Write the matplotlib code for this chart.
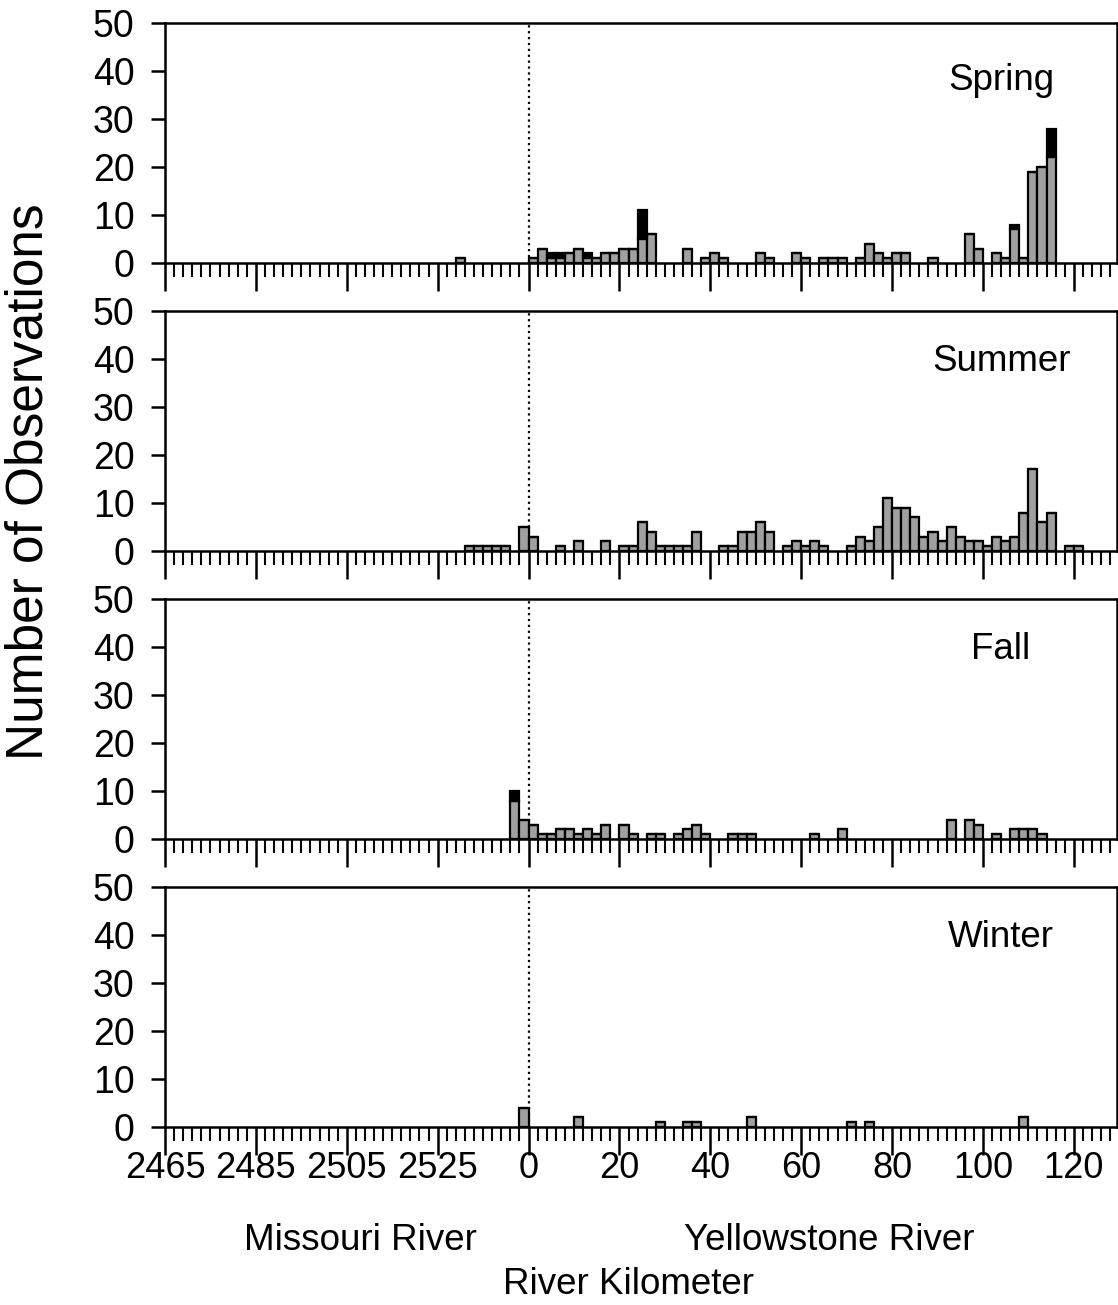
import matplotlib
matplotlib.use("Agg")
import matplotlib.pyplot as plt
from matplotlib.ticker import MultipleLocator, FuncFormatter

plt.rcParams['font.family'] = ['Liberation Sans', 'DejaVu Sans']

# Missouri River km at the Yellowstone confluence (axis break point)
MO_CONFLUENCE = 2545
BIN = 2  # km per bar

seasons = ['Spring', 'Summer', 'Fall', 'Winter']

# Missouri River bins (start rkm) and counts
mo_km = {
    'Spring': [2529],
    'Summer': [2531, 2533, 2535, 2537, 2539, 2543],
    'Fall':   [2541, 2543],
    'Winter': [2543],
}
mo_gray = {
    'Spring': [1],
    'Summer': [1, 1, 1, 1, 1, 5],
    'Fall':   [8, 4],
    'Winter': [4],
}
mo_black = {
    'Spring': [0],
    'Summer': [0, 0, 0, 0, 0, 0],
    'Fall':   [2, 0],
    'Winter': [0],
}

# Yellowstone River bins (start rkm) and counts
ys_km = {
    'Spring': [0, 2, 4, 6, 8, 10, 12, 14, 16, 18, 20, 22, 24, 26, 34, 38, 40, 42,
               50, 52, 58, 60, 64, 66, 68, 72, 74, 76, 78, 80, 82, 88, 96, 98,
               102, 104, 106, 108, 110, 112, 114],
    'Summer': [0, 6, 10, 16, 20, 22, 24, 26, 28, 30, 32, 34, 36, 42, 44, 46, 48,
               50, 52, 56, 58, 60, 62, 64, 70, 72, 74, 76, 78, 80, 82, 84, 86,
               88, 90, 92, 94, 96, 98, 100, 102, 104, 106, 108, 110, 112, 114,
               118, 120],
    'Fall':   [0, 2, 4, 6, 8, 10, 12, 14, 16, 20, 22, 26, 28, 32, 34, 36, 38, 44,
               46, 48, 62, 68, 92, 96, 98, 102, 106, 108, 110, 112],
    'Winter': [10, 28, 34, 36, 48, 70, 74, 108],
}
ys_gray = {
    'Spring': [1, 3, 1, 1, 2, 3, 1, 1, 2, 2, 3, 3, 5, 6, 3, 1, 2, 1,
               2, 1, 2, 1, 1, 1, 1, 1, 4, 2, 1, 2, 2, 1, 6, 3,
               2, 1, 7, 1, 19, 20, 22],
    'Summer': [3, 1, 2, 2, 1, 1, 6, 4, 1, 1, 1, 1, 4, 1, 1, 4, 4,
               6, 4, 1, 2, 1, 2, 1, 1, 3, 2, 5, 11, 9, 9, 7, 3,
               4, 2, 5, 3, 2, 2, 1, 3, 2, 3, 8, 17, 6, 8,
               1, 1],
    'Fall':   [3, 1, 1, 2, 2, 1, 2, 1, 3, 3, 1, 1, 1, 1, 2, 3, 1, 1,
               1, 1, 1, 2, 4, 4, 3, 1, 2, 2, 2, 1],
    'Winter': [2, 1, 1, 1, 2, 1, 1, 2],
}
ys_black = {
    'Spring': [0, 0, 1, 1, 0, 0, 1, 0, 0, 0, 0, 0, 6, 0, 0, 0, 0, 0,
               0, 0, 0, 0, 0, 0, 0, 0, 0, 0, 0, 0, 0, 0, 0, 0,
               0, 0, 1, 0, 0, 0, 6],
    'Summer': [0] * 49,
    'Fall':   [0] * 30,
    'Winter': [0] * 8,
}

label_y = {'Spring': 38, 'Summer': 39.5, 'Fall': 39.5, 'Winter': 39.5}

GRAY = '#a0a0a0'


def axis_fmt(x, pos):
    # negative positions belong to the Missouri River scale
    if x < 0:
        return f"{int(round(x + MO_CONFLUENCE))}"
    return f"{int(round(x))}"


fig = plt.figure(figsize=(11.18, 13.05), dpi=100)
left, width, height = 0.1476, 0.8515, 0.1839
bottoms = [0.7985, 0.5778, 0.3571, 0.1364]

for i, season in enumerate(seasons):
    ax = fig.add_axes([left, bottoms[i], width, height])

    xs = [k - MO_CONFLUENCE for k in mo_km[season]] + ys_km[season]
    g = mo_gray[season] + ys_gray[season]
    b = mo_black[season] + ys_black[season]

    ax.bar(xs, g, width=BIN, align='edge', color=GRAY, edgecolor='black',
           linewidth=1.6, zorder=3)
    ax.bar(xs, b, width=BIN, bottom=g, align='edge', color='black',
           edgecolor='black', linewidth=1.6, zorder=3)

    ax.axvline(0, color='black', linestyle=':', linewidth=1.6, zorder=2)

    ax.set_xlim(-80, 129.5)
    ax.set_ylim(0, 50)
    ax.set_yticks(range(0, 51, 10))
    ax.xaxis.set_major_locator(MultipleLocator(20))
    ax.xaxis.set_minor_locator(MultipleLocator(BIN))
    ax.xaxis.set_major_formatter(FuncFormatter(axis_fmt))

    ax.tick_params(axis='x', which='major', direction='out', length=20,
                   width=1.8, labelsize=26, pad=-3)
    ax.tick_params(axis='x', which='minor', direction='out', length=10,
                   width=1.5)
    ax.tick_params(axis='y', which='major', direction='out', length=10,
                   width=1.8, labelsize=27, pad=12)
    if i < 3:
        ax.tick_params(axis='x', which='major', labelbottom=False)

    for sp in ax.spines.values():
        sp.set_linewidth(1.8)

    ax.text(104, label_y[season], season, fontsize=26.5, ha='center',
            va='center')

fig.text(0.322, 1 - 1240 / 1305, 'Missouri River', fontsize=26.5,
         ha='center', va='center')
fig.text(0.742, 1 - 1240 / 1305, 'Yellowstone River', fontsize=26.5,
         ha='center', va='center')
fig.text(0.562, 1 - 1285 / 1305, 'River Kilometer', fontsize=26.5,
         ha='center', va='center')
fig.text(0.026, 0.631, 'Number of Observations', fontsize=37,
         rotation=90, ha='center', va='center')

fig.savefig('out.png', dpi=100)
